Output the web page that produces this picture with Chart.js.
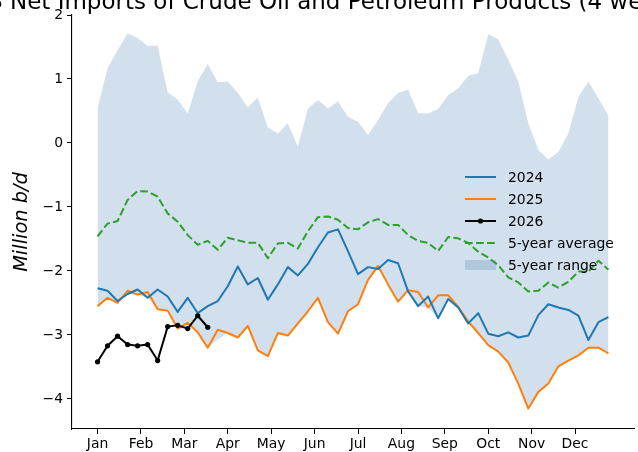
<!DOCTYPE html>
<html>
<head>
<meta charset="utf-8">
<script src="https://cdn.jsdelivr.net/npm/chart.js@4/dist/chart.umd.min.js"></script>
<style>
  html, body { margin: 0; padding: 0; background: #fff; }
  #wrap { width: 638px; height: 452px; position: relative; }
  canvas { display: block; }
</style>
</head>
<body>
<div id="wrap"><canvas id="c" width="638" height="452"></canvas></div>
<script>
// Week numbers of the year (x positions) and month tick labels
const weeks = Array.from({ length: 52 }, (_, i) => i + 1);
const monthLabels = ['Jan', 'Feb', 'Mar', 'Apr', 'May', 'Jun', 'Jul', 'Aug', 'Sep', 'Oct', 'Nov', 'Dec'];
const yTicks = [-4, -3, -2, -1, 0, 1, 2];

// Net imports, million b/d, 4-week average
const net2024 = [-2.27, -2.31, -2.47, -2.36, -2.29, -2.42, -2.29, -2.40, -2.64, -2.42, -2.66, -2.55, -2.47,
  -2.24, -1.93, -2.21, -2.11, -2.45, -2.21, -1.94, -2.07, -1.89, -1.63, -1.40, -1.35, -1.69,
  -2.05, -1.94, -1.97, -1.83, -1.88, -2.32, -2.55, -2.40, -2.74, -2.44, -2.57, -2.82, -2.66,
  -2.98, -3.02, -2.96, -3.04, -3.01, -2.69, -2.52, -2.57, -2.61, -2.70, -3.08, -2.80, -2.72];

const net2025 = [-2.55, -2.42, -2.50, -2.31, -2.37, -2.33, -2.60, -2.62, -2.90, -2.81, -2.96, -3.20, -2.92,
  -2.97, -3.04, -2.86, -3.24, -3.33, -2.97, -3.01, -2.82, -2.63, -2.42, -2.80, -2.98, -2.63,
  -2.52, -2.14, -1.92, -2.21, -2.48, -2.30, -2.33, -2.57, -2.38, -2.38, -2.56, -2.79, -2.97,
  -3.16, -3.26, -3.43, -3.76, -4.15, -3.89, -3.76, -3.49, -3.40, -3.32, -3.20, -3.20, -3.29];

const net2026 = [-3.42, -3.17, -3.02, -3.15, -3.17, -3.15, -3.40, -2.87, -2.85, -2.90, -2.70, -2.88];

const avg5yr = [-1.46, -1.26, -1.22, -0.89, -0.75, -0.76, -0.84, -1.10, -1.23, -1.44, -1.59, -1.53, -1.67,
  -1.48, -1.52, -1.56, -1.56, -1.80, -1.57, -1.56, -1.65, -1.38, -1.16, -1.15, -1.20, -1.33,
  -1.35, -1.24, -1.19, -1.28, -1.28, -1.44, -1.53, -1.56, -1.69, -1.47, -1.49, -1.56, -1.70,
  -1.79, -1.91, -2.10, -2.18, -2.32, -2.31, -2.18, -2.26, -2.17, -2.01, -2.01, -1.84, -1.98];

const rangeMax = [0.54, 1.17, 1.45, 1.71, 1.64, 1.52, 1.52, 0.79, 0.68, 0.46, 0.96, 1.24, 0.95,
  0.96, 0.78, 0.56, 0.71, 0.24, 0.15, 0.31, -0.06, 0.54, 0.67, 0.54, 0.65, 0.41,
  0.33, 0.12, 0.36, 0.62, 0.78, 0.83, 0.47, 0.46, 0.53, 0.75, 0.85, 1.05, 1.09,
  1.70, 1.62, 1.30, 0.96, 0.31, -0.11, -0.26, -0.14, 0.15, 0.72, 0.96, 0.70, 0.42];

const rangeMin = [-2.55, -2.42, -2.50, -2.36, -2.37, -2.42, -2.60, -2.62, -2.90, -2.81, -2.96, -3.20, -3.07,
  -2.97, -3.04, -2.86, -3.24, -3.33, -2.97, -3.01, -2.82, -2.63, -2.42, -2.80, -2.98, -2.63,
  -2.52, -2.14, -1.97, -2.21, -2.48, -2.32, -2.55, -2.57, -2.74, -2.44, -2.57, -2.82, -2.97,
  -3.16, -3.26, -3.43, -3.76, -4.15, -3.89, -3.76, -3.49, -3.40, -3.32, -3.20, -3.20, -3.29];

const C_BLUE = '#1f77b4', C_ORANGE = '#ff7f0e', C_GREEN = '#2ca02c';
const C_RANGE = 'rgba(70,130,180,0.25)';
const FONT = '"DejaVu Sans", sans-serif';
const TITLE = 'US Net Imports of Crude Oil and Petroleum Products (4 week average)';

const pts = (vals) => vals.map((v, i) => ({ x: weeks[i], y: v }));

const legendItems = [
  { label: '2024', kind: 'line', color: C_BLUE },
  { label: '2025', kind: 'line', color: C_ORANGE },
  { label: '2026', kind: 'marker', color: '#000' },
  { label: '5-year average', kind: 'dash', color: C_GREEN },
  { label: '5-year range', kind: 'patch', color: C_RANGE }
];

// Title, rotated y-axis label and the in-plot legend
const decorations = {
  id: 'decorations',
  afterDraw(chart) {
    const ctx = chart.ctx;
    const area = chart.chartArea;
    ctx.save();

    ctx.fillStyle = '#000';
    ctx.font = '23px ' + FONT;
    ctx.textAlign = 'left';
    ctx.textBaseline = 'alphabetic';
    const lead = ctx.measureText('US ').width;
    ctx.fillText(TITLE, 10 - lead, 9);

    ctx.save();
    ctx.translate(22, (area.top + area.bottom) / 2);
    ctx.rotate(-Math.PI / 2);
    ctx.font = 'italic 19.4px ' + FONT;
    ctx.textAlign = 'center';
    ctx.textBaseline = 'middle';
    ctx.fillText('Million b/d', 0, 0);
    ctx.restore();

    const x0 = 465, x1 = 496, tx = 508, y0 = 177, dy = 22;
    ctx.font = '13.9px ' + FONT;
    ctx.textBaseline = 'middle';
    legendItems.forEach((it, k) => {
      const y = y0 + k * dy;
      ctx.lineWidth = 2;
      ctx.setLineDash([]);
      if (it.kind === 'patch') {
        ctx.fillStyle = it.color;
        ctx.fillRect(x0, y - 5, x1 - x0, 10);
      } else {
        ctx.strokeStyle = it.color;
        if (it.kind === 'dash') ctx.setLineDash([7.7, 3.3]);
        ctx.beginPath();
        ctx.moveTo(x0, y);
        ctx.lineTo(x1, y);
        ctx.stroke();
        ctx.setLineDash([]);
        if (it.kind === 'marker') {
          ctx.fillStyle = it.color;
          ctx.beginPath();
          ctx.arc((x0 + x1) / 2, y, 2.6, 0, Math.PI * 2);
          ctx.fill();
        }
      }
      ctx.fillStyle = '#000';
      ctx.fillText(it.label, tx, y + 1);
    });
    ctx.restore();
  }
};

new Chart(document.getElementById('c'), {
  type: 'line',
  data: {
    datasets: [
      { label: '2026', data: pts(net2026), borderColor: '#000', backgroundColor: '#000',
        borderWidth: 2, pointRadius: 2.6, pointBackgroundColor: '#000', pointBorderWidth: 0, fill: false },
      { label: '2024', data: pts(net2024), borderColor: C_BLUE, borderWidth: 2, pointRadius: 0, fill: false },
      { label: '2025', data: pts(net2025), borderColor: C_ORANGE, borderWidth: 2, pointRadius: 0, fill: false },
      { label: '5-year average', data: pts(avg5yr), borderColor: C_GREEN, borderWidth: 2,
        borderDash: [7.7, 3.3], pointRadius: 0, fill: false },
      { label: '5-year range', data: pts(rangeMax), borderWidth: 0, borderColor: 'rgba(0,0,0,0)',
        pointRadius: 0, backgroundColor: C_RANGE, fill: '+1' },
      { label: 'range-low', data: pts(rangeMin), borderWidth: 0, borderColor: 'rgba(0,0,0,0)',
        pointRadius: 0, fill: false }
    ]
  },
  options: {
    responsive: false,
    animation: false,
    devicePixelRatio: 1,
    elements: { line: { tension: 0, borderJoinStyle: 'round', borderCapStyle: 'butt' } },
    layout: { padding: { top: 15, right: 1, left: 0, bottom: 0 } },
    plugins: { legend: { display: false }, tooltip: { enabled: false }, title: { display: false } },
    scales: {
      x: {
        type: 'linear',
        min: -1.55,
        max: 54.55,
        afterBuildTicks: (s) => { s.ticks = monthLabels.map((m, i) => ({ value: 1 + i * 52 / 12 })); },
        afterFit: (s) => { s.height = 23; },
        ticks: {
          autoSkip: false, maxRotation: 0, padding: 2, color: '#000',
          font: { family: FONT, size: 13.9 },
          callback: (v, i) => monthLabels[i]
        },
        grid: { display: true, drawOnChartArea: false, drawTicks: true, tickLength: 5, tickColor: '#000', tickWidth: 1 },
        border: { display: true, color: '#000', width: 1.1 }
      },
      y: {
        type: 'linear',
        min: -4.47,
        max: 2.0,
        afterBuildTicks: (s) => { s.ticks = yTicks.map(v => ({ value: v })); },
        afterFit: (s) => { s.width = 72; },
        ticks: {
          padding: 4, color: '#000',
          font: { family: FONT, size: 13.9 },
          callback: (v) => (v < 0 ? '\u2212' + Math.abs(v) : String(v))
        },
        grid: { display: true, drawOnChartArea: false, drawTicks: true, tickLength: 5, tickColor: '#000', tickWidth: 1 },
        border: { display: true, color: '#000', width: 1.1 }
      }
    }
  },
  plugins: [decorations]
});
</script>
</body>
</html>
